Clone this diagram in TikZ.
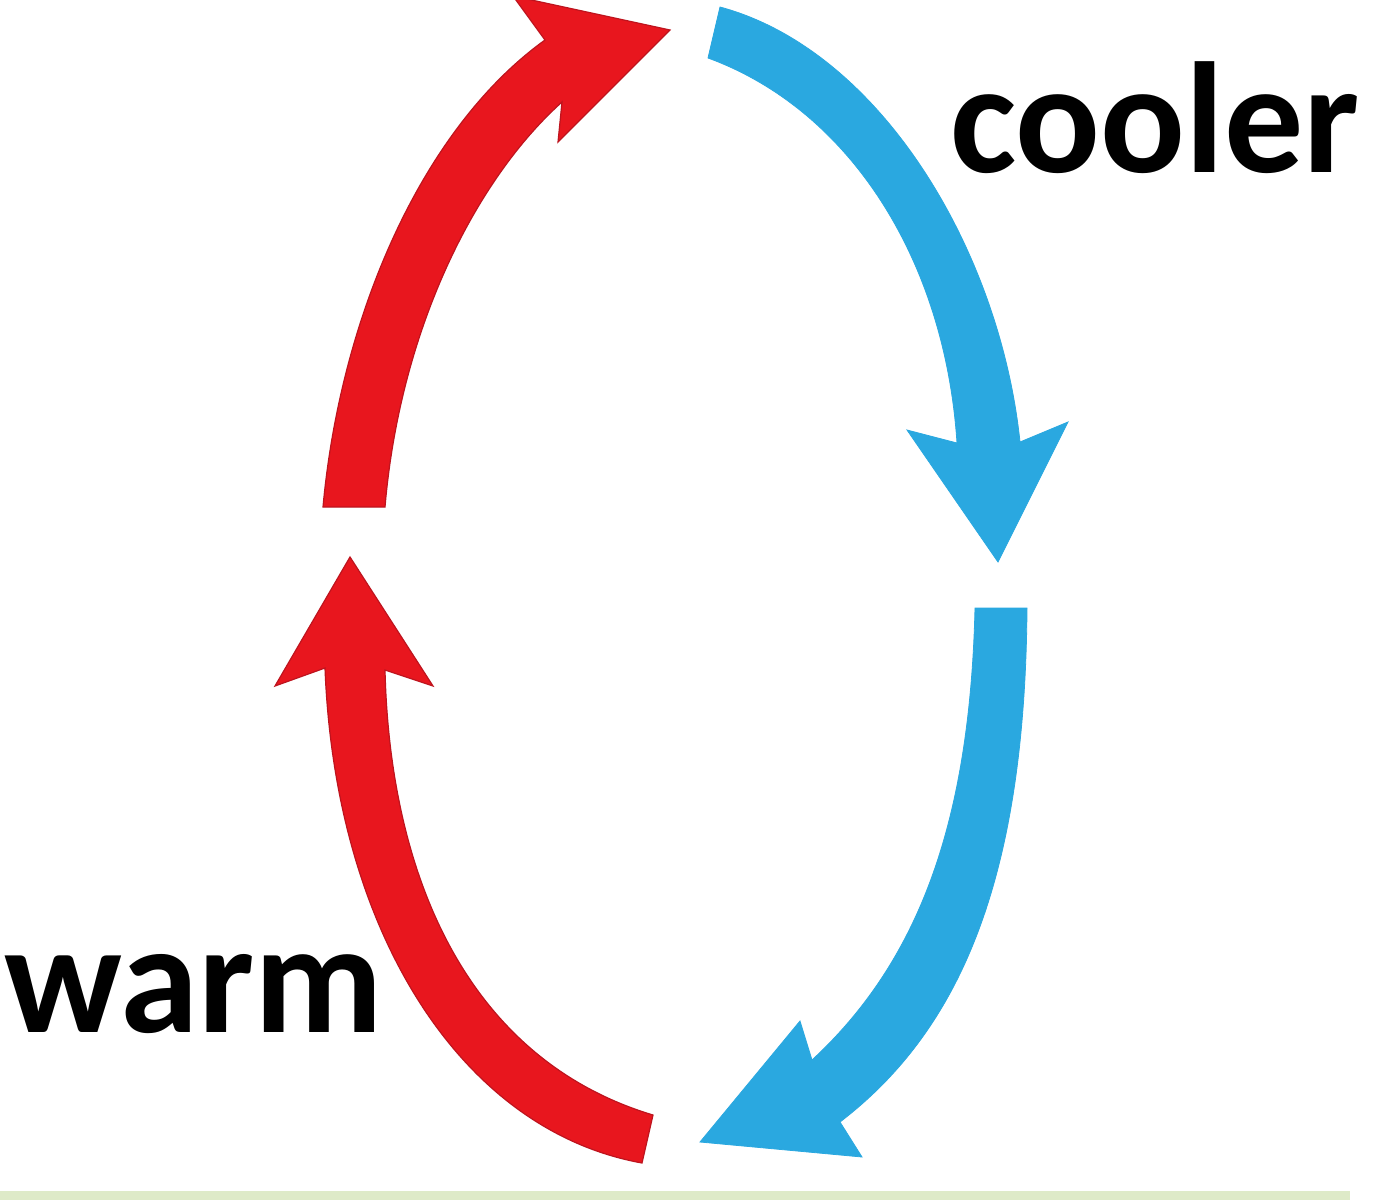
\documentclass[tikz,border=0pt]{standalone}
\usepackage{fontspec}
\setmainfont{Carlito}
\definecolor{warmred}{RGB}{232,22,30}
\definecolor{warmedge}{RGB}{190,20,30}
\definecolor{coolblue}{RGB}{42,168,224}
\definecolor{stripgreen}{RGB}{222,234,200}
\tikzset{
  redarrow/.style={fill=warmred, draw=warmedge, line width=1.2pt, line join=miter},
  bluearrow/.style={fill=coolblue, draw=coolblue, line width=0.8pt, line join=miter},
  label/.style={inner sep=0pt, font=\fontsize{158}{160}\selectfont\bfseries, text=black}
}
\begin{document}
\begin{tikzpicture}[x=1pt,y=-1pt]
\useasboundingbox (0,0) rectangle (1382,1200);
\fill[white] (0,0) rectangle (1382,1200);
% bottom strip
\fill[stripgreen] (0,1191) rectangle (1350,1200);

% red top arrow (upwards, left side)
\path[redarrow] (323,507) .. controls (340,320) and (420,130) .. (545,40)
  -- (513,-4) -- (670,30) -- (558,142) -- (562,102)
  .. controls (475,180) and (400,330) .. (385,507) -- cycle;

% blue top arrow (downwards, right side)
\path[bluearrow] (720,7) .. controls (880,50) and (1000,250) .. (1020,442)
  -- (1068,422) -- (998,562) -- (907,430) -- (957,443)
  .. controls (945,260) and (850,110) .. (708,58) -- cycle;

% blue bottom arrow (downwards, right side)
\path[bluearrow] (1027,608) .. controls (1025,880) and (960,1030) .. (840,1122)
  -- (862,1157) -- (700,1142) -- (800,1021) -- (812,1060)
  .. controls (920,960) and (970,820) .. (975,608) -- cycle;

% red bottom arrow (upwards, left side)
\path[redarrow] (642,1163) .. controls (460,1130) and (335,930) .. (325,668)
  -- (275,686) -- (350,557) -- (433,686) -- (385,670)
  .. controls (390,880) and (470,1060) .. (653,1115) -- cycle;

\node[label, anchor=base west] (cooler) at (950,172) {cooler};
\node[label, anchor=base west] (warm) at (4,1032) {warm};
\end{tikzpicture}
\end{document}
